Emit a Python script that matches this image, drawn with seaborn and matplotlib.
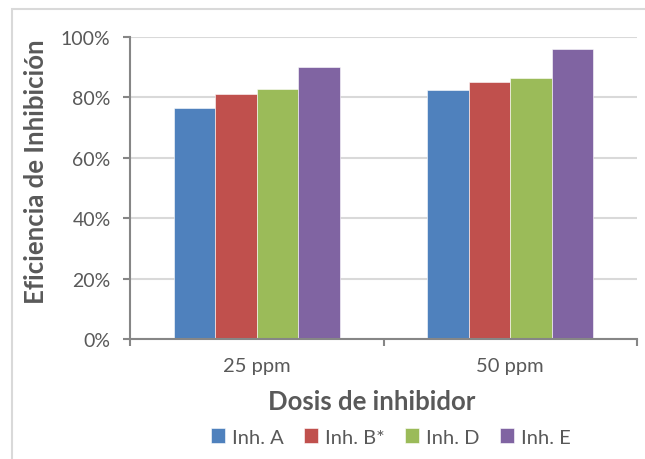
import matplotlib
matplotlib.use("Agg")
import matplotlib.pyplot as plt
import seaborn as sns
import pandas as pd
from matplotlib.patches import Rectangle
from matplotlib.ticker import PercentFormatter

# ---- data ----
doses = ["25 ppm", "50 ppm"]
inhibitors = ["Inh. A", "Inh. B*", "Inh. D", "Inh. E"]
inh_a = [76.6, 82.4]
inh_b = [81.1, 85.0]
inh_d = [82.8, 86.5]
inh_e = [90.2, 96.0]
colors = ["#4F81BD", "#C0504D", "#9BBB59", "#8064A2"]
y_ticks = [0, 20, 40, 60, 80, 100]

series = [inh_a, inh_b, inh_d, inh_e]
rows = []
for name, vals in zip(inhibitors, series):
    for d, v in zip(doses, vals):
        rows.append({"Dosis": d, "Inhibidor": name, "Eficiencia": v})
df = pd.DataFrame(rows)

sns.set_theme(style="white")
plt.rcParams["font.family"] = ["Lato", "DejaVu Sans"]

W, H = 645, 460
fig = plt.figure(figsize=(W / 100, H / 100), dpi=100)
ax = fig.add_axes([130 / W, 1 - 340 / H, (637 - 130) / W, (340 - 38) / H])

sns.barplot(data=df, x="Dosis", y="Eficiencia", hue="Inhibidor",
            order=doses, hue_order=inhibitors, palette=colors, saturation=1,
            width=0.655, gap=0, errorbar=None, ax=ax,
            edgecolor="white", linewidth=0.4, legend=True)

grey_txt = "#595959"
ax.set_ylim(0, 100)
ax.set_xlim(-0.5, 1.5)
ax.set_yticks(y_ticks)
ax.yaxis.set_major_formatter(PercentFormatter(decimals=0))
ax.grid(axis="y", color="#D9D9D9", linewidth=1.5)
ax.set_axisbelow(True)
for s in ["top", "right"]:
    ax.spines[s].set_visible(False)
for s in ["left", "bottom"]:
    ax.spines[s].set_color("#868686")
    ax.spines[s].set_linewidth(1.5)

ax.tick_params(axis="y", which="major", direction="out", length=5, width=1.5,
               color="#868686", labelcolor=grey_txt, labelsize=14, pad=9, left=True)
ax.set_xticks([0, 1])
ax.set_xticklabels(doses)
ax.set_xticks([-0.5, 0.5, 1.5], minor=True)
ax.tick_params(axis="x", which="major", length=0, labelcolor=grey_txt, labelsize=14.5, pad=13)
ax.tick_params(axis="x", which="minor", direction="out", length=5, width=1.5,
               color="#868686", bottom=True)
ax.set_xlabel("")
ax.set_ylabel("")

fig.text(36 / W, 1 - 172 / H, "Eficiencia de Inhibición", rotation=90,
         ha="center", va="center", fontsize=18.5, fontweight="bold", color=grey_txt)
fig.text(372 / W, 1 - 402 / H, "Dosis de inhibidor",
         ha="center", va="center", fontsize=18.5, fontweight="bold", color=grey_txt)

handles, labels = ax.get_legend_handles_labels()
ax.get_legend().remove()
leg = fig.legend(handles, labels, loc="center", bbox_to_anchor=(391 / W, 1 - 438 / H),
                 ncol=4, frameon=False, fontsize=14.5, handlelength=0.7, handleheight=0.7,
                 handletextpad=0.35, columnspacing=1.0, borderpad=0)
for t in leg.get_texts():
    t.set_color(grey_txt)

# chart-area border (cropped at right and bottom)
fig.patches.append(Rectangle((11.5 / W, -0.1), 1.2, 1.1 - 10 / H,
                             transform=fig.transFigure, fill=False,
                             edgecolor="#D9D9D9", linewidth=1.5))

fig.savefig("out.png", dpi=100)
